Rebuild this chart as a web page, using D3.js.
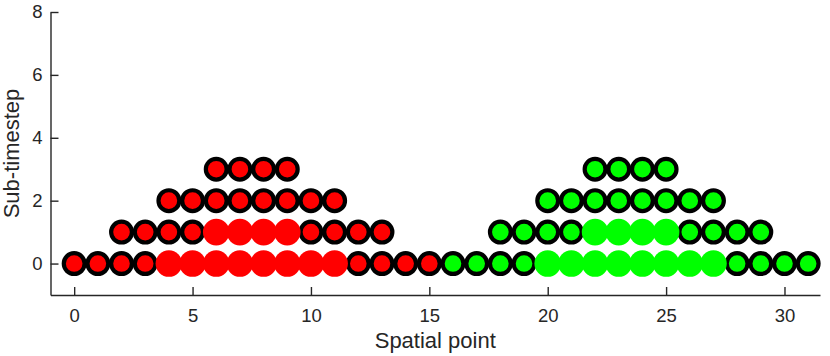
<!DOCTYPE html>
<html>
<head>
<meta charset="utf-8">
<script src="https://cdn.jsdelivr.net/npm/d3@7"></script>
<style>
  body { margin: 0; background: #fff; }
  svg { display: block; font-family: "Liberation Sans", Arial, sans-serif; }
</style>
</head>
<body>
<svg width="830" height="356"></svg>
<script>
// ring markers (black edge) and plain disks, per group
const redRingX = [0, 1, 2, 3, 12, 13, 14, 15, 2, 3, 4, 5, 10, 11, 12, 13, 4, 5, 6, 7, 8, 9, 10, 11, 6, 7, 8, 9];
const redRingY = [0, 0, 0, 0, 0, 0, 0, 0, 1, 1, 1, 1, 1, 1, 1, 1, 2, 2, 2, 2, 2, 2, 2, 2, 3, 3, 3, 3];
const redDiskX = [4, 5, 6, 7, 8, 9, 10, 11, 6, 7, 8, 9];
const redDiskY = [0, 0, 0, 0, 0, 0, 0, 0, 1, 1, 1, 1];

const greenRingX = [16, 17, 18, 19, 28, 29, 30, 31, 18, 19, 20, 21, 26, 27, 28, 29, 20, 21, 22, 23, 24, 25, 26, 27, 22, 23, 24, 25];
const greenRingY = [0, 0, 0, 0, 0, 0, 0, 0, 1, 1, 1, 1, 1, 1, 1, 1, 2, 2, 2, 2, 2, 2, 2, 2, 3, 3, 3, 3];
const greenDiskX = [20, 21, 22, 23, 24, 25, 26, 27, 22, 23, 24, 25];
const greenDiskY = [0, 0, 0, 0, 0, 0, 0, 0, 1, 1, 1, 1];

const xTicks = [0, 5, 10, 15, 20, 25, 30];
const yTicks = [0, 2, 4, 6, 8];

const svg = d3.select("svg");
const axisColor = "#262626";

const x = d3.scaleLinear().domain([-1, 31.5]).range([50.5, 820]);
const y = d3.scaleLinear().domain([-1, 8]).range([295, 12]);

const zip = (xs, ys) => xs.map((v, i) => [v, ys[i]]);

function rings(data, fill) {
  svg.append("g")
    .selectAll("circle")
    .data(data)
    .enter().append("circle")
    .attr("cx", d => x(d[0]))
    .attr("cy", d => y(d[1]))
    .attr("r", 10.4)
    .attr("fill", fill)
    .attr("stroke", "#000")
    .attr("stroke-width", 4.2);
}

function disks(data, fill) {
  svg.append("g")
    .selectAll("circle")
    .data(data)
    .enter().append("circle")
    .attr("cx", d => x(d[0]))
    .attr("cy", d => y(d[1]))
    .attr("r", 13.3)
    .attr("fill", fill);
}

rings(zip(redRingX, redRingY), "#ff0000");
rings(zip(greenRingX, greenRingY), "#00ff00");
disks(zip(redDiskX, redDiskY), "#ff0000");
disks(zip(greenDiskX, greenDiskY), "#00ff00");

// axes (ticks point inward, no box)
const gx = svg.append("g")
  .attr("transform", "translate(0," + y(-1) + ")")
  .call(d3.axisBottom(x).tickValues(xTicks).tickSizeInner(-8).tickSizeOuter(0).tickPadding(14));
const gy = svg.append("g")
  .attr("transform", "translate(" + x(-1) + ",0)")
  .call(d3.axisLeft(y).tickValues(yTicks).tickSizeInner(-8).tickSizeOuter(0).tickPadding(8));

[gx, gy].forEach(g => {
  g.select(".domain").attr("stroke", axisColor).attr("stroke-width", 1.4);
  g.selectAll(".tick line").attr("stroke", axisColor).attr("stroke-width", 1.4);
  g.selectAll(".tick text").attr("fill", axisColor)
    .style("font-size", "18.5px")
    .style("font-family", "'Liberation Sans', Arial, sans-serif");
});

svg.append("text")
  .attr("x", (x(-1) + x(31.5)) / 2)
  .attr("y", 348)
  .attr("text-anchor", "middle")
  .attr("fill", axisColor)
  .style("font-size", "22px")
  .text("Spatial point");

svg.append("text")
  .attr("transform", "translate(19," + (y(-1) + y(8)) / 2 + ") rotate(-90)")
  .attr("text-anchor", "middle")
  .attr("fill", axisColor)
  .style("font-size", "22px")
  .text("Sub-timestep");
</script>
</body>
</html>
